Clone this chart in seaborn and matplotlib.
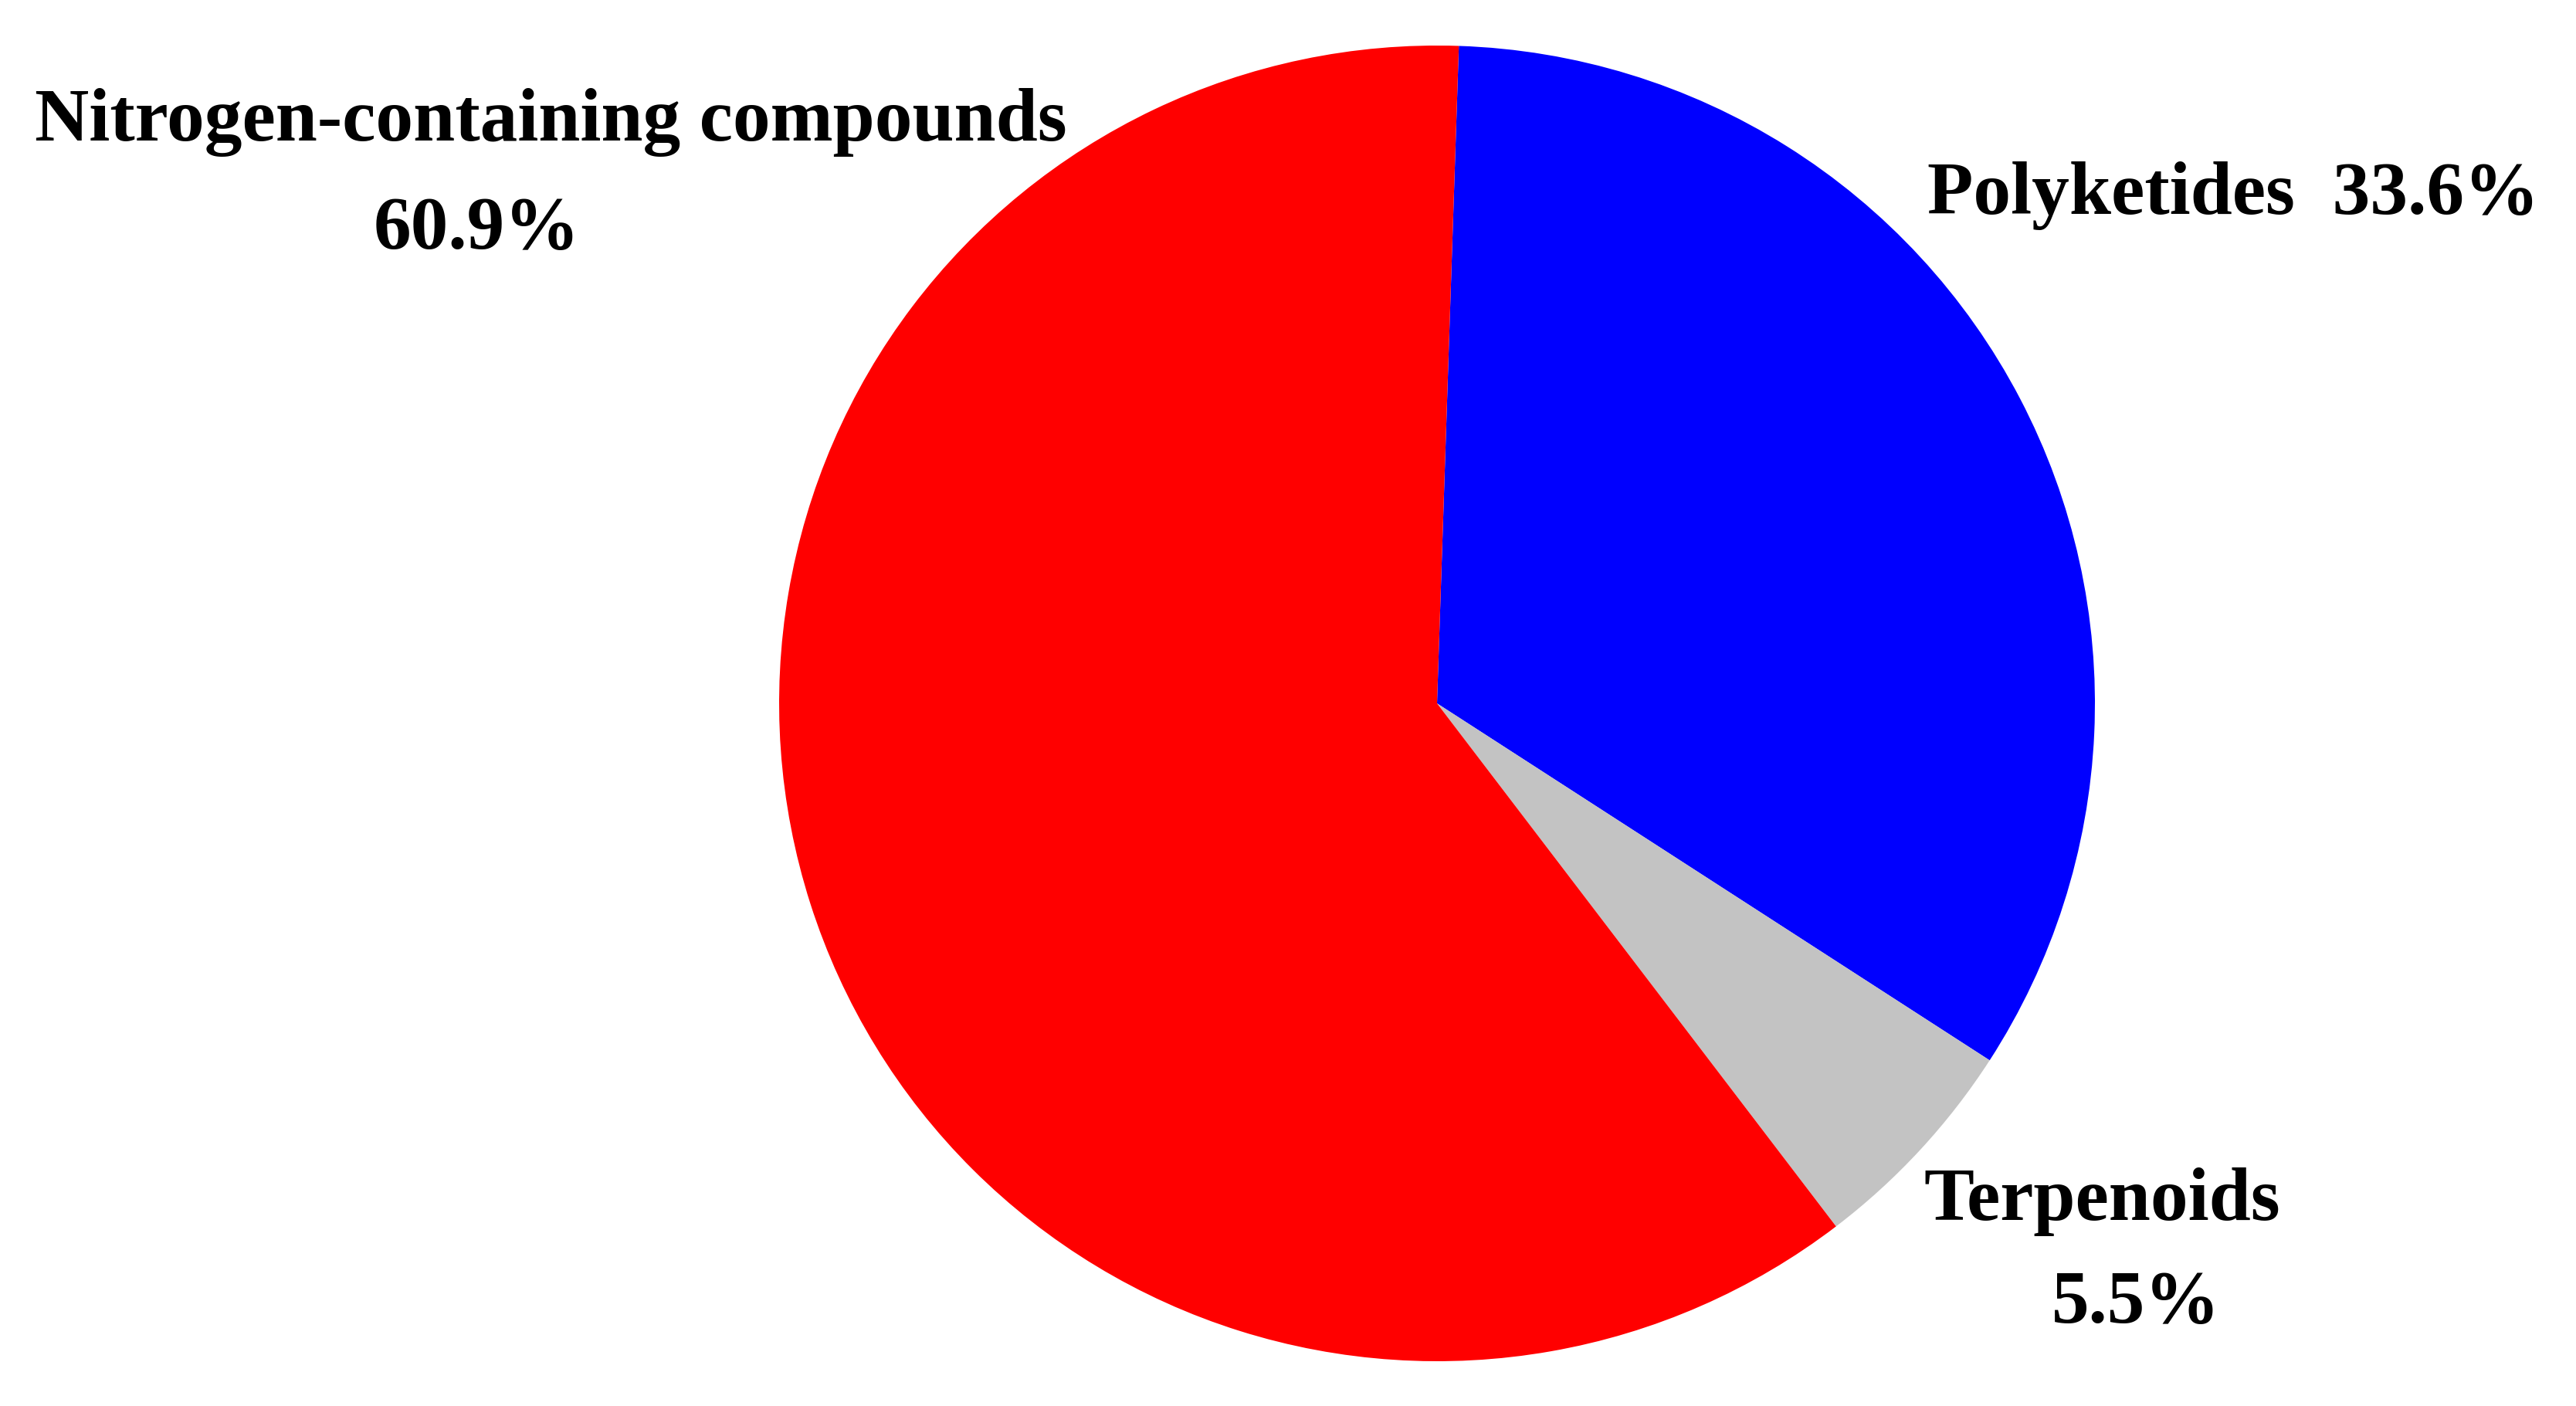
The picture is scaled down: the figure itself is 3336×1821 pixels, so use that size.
import matplotlib
matplotlib.use("Agg")
import matplotlib.pyplot as plt
import seaborn as sns

# ---- data ----
categories = ["Polyketides", "Terpenoids", "Nitrogen-containing compounds"]
values = [33.6, 5.5, 60.9]
slice_colors = ["#0000FF", "#C3C3C3", "#FF0000"]

sns.set_theme(style="white")
plt.rcParams["font.family"] = ["Liberation Serif", "DejaVu Serif"]

W, H = 3336, 1821
fig = plt.figure(figsize=(W / 100, H / 100), dpi=100)
fig.patch.set_facecolor("white")

cx, cy, r = 1861, 911, 852
ax = fig.add_axes([(cx - r) / W, (H - cy - r) / H, 2 * r / W, 2 * r / H])
ax.pie(values, colors=slice_colors, startangle=88.1, counterclock=False,
       radius=1.0, wedgeprops=dict(linewidth=0, antialiased=True))
ax.set_xlim(-1, 1)
ax.set_ylim(-1, 1)
ax.set_aspect("equal")
ax.axis("off")

fs = 70
def put(txt, x, y):
    fig.text(x / W, 1 - y / H, txt, ha="center", va="baseline",
             fontsize=fs, fontweight="bold", color="black")

put(categories[2], 713, 182)
put(f"{values[2]}%", 617, 322)
put(f"{categories[0]}  {values[0]}%", 2892, 277)
put(categories[1], 2722, 1580)
put(f"{values[1]}%", 2766, 1713)

fig.savefig("out.png", dpi=100, facecolor="white")
